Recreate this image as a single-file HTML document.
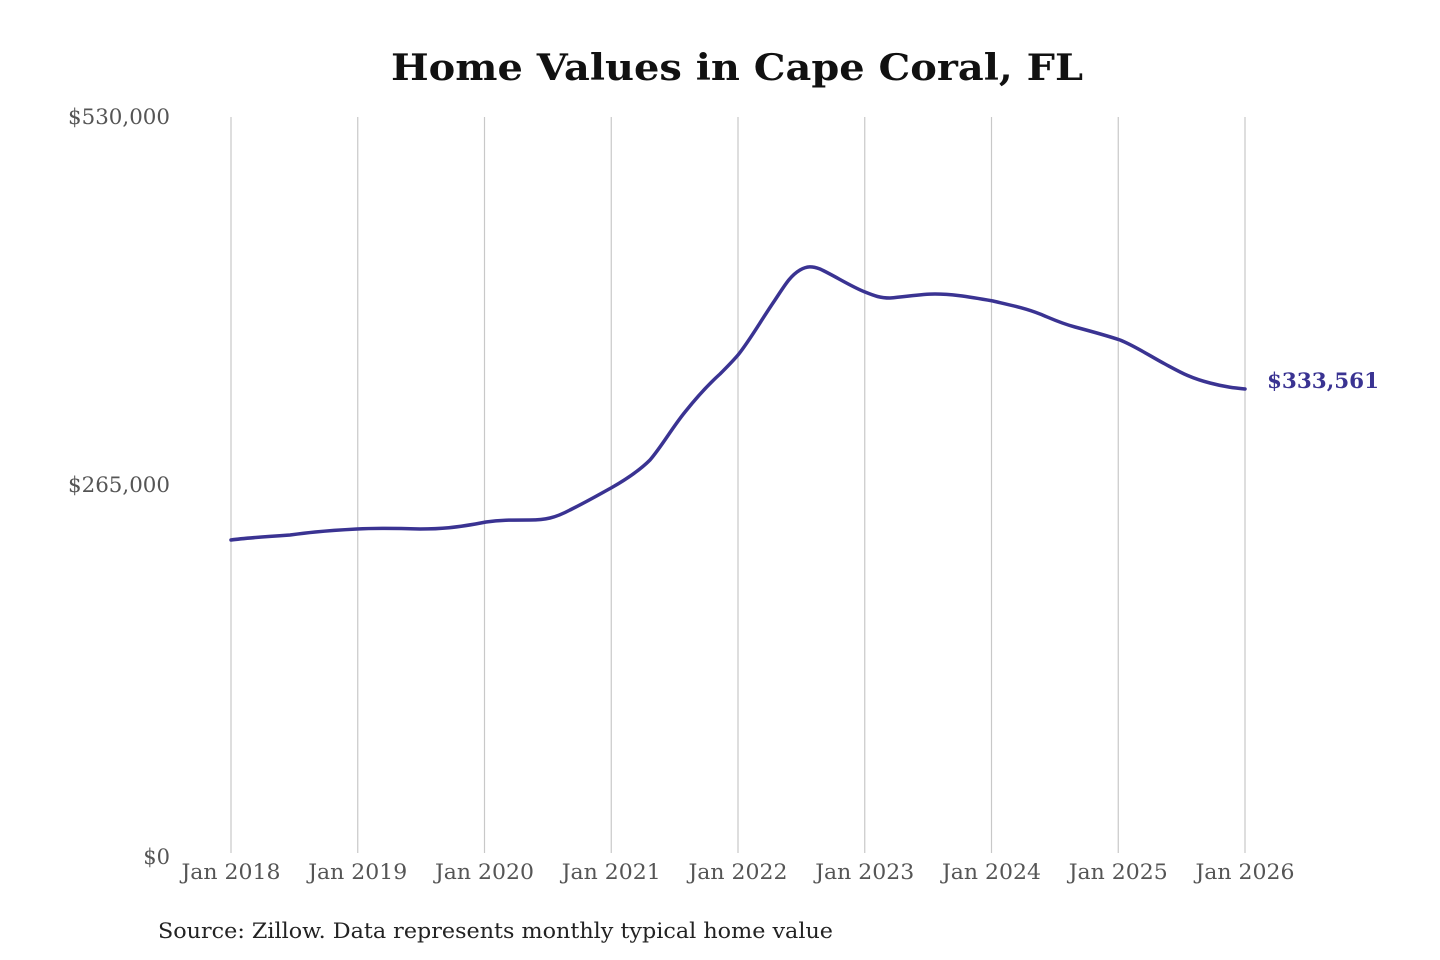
<!DOCTYPE html>
<html><head><meta charset="utf-8"><style>
html,body{margin:0;padding:0;background:#fff;}
svg{display:block;}
text{font-family:"DejaVu Serif","Liberation Serif",serif;}
</style></head><body>
<svg width="1440" height="960" viewBox="0 0 1440 960" xmlns="http://www.w3.org/2000/svg">
<rect width="1440" height="960" fill="#fff"/>
<text x="737" y="80" text-anchor="middle" font-size="36" font-weight="bold" fill="#111" textLength="692" lengthAdjust="spacingAndGlyphs">Home Values in Cape Coral, FL</text>
<g stroke="#c8c8c8" stroke-width="1.2">
<line x1="231" y1="117" x2="231" y2="853"/>
<line x1="357.75" y1="117" x2="357.75" y2="853"/>
<line x1="484.5" y1="117" x2="484.5" y2="853"/>
<line x1="611.25" y1="117" x2="611.25" y2="853"/>
<line x1="738" y1="117" x2="738" y2="853"/>
<line x1="864.75" y1="117" x2="864.75" y2="853"/>
<line x1="991.5" y1="117" x2="991.5" y2="853"/>
<line x1="1118.25" y1="117" x2="1118.25" y2="853"/>
<line x1="1245" y1="117" x2="1245" y2="853"/>
</g>
<g font-size="21" fill="#555" text-anchor="end">
<text x="170" y="124" textLength="102" lengthAdjust="spacingAndGlyphs">$530,000</text>
<text x="170" y="492" textLength="102" lengthAdjust="spacingAndGlyphs">$265,000</text>
<text x="170" y="864">$0</text>
</g>
<g font-size="21" fill="#555" text-anchor="middle">
<text x="231" y="879" textLength="99" lengthAdjust="spacingAndGlyphs">Jan 2018</text>
<text x="357.75" y="879" textLength="99" lengthAdjust="spacingAndGlyphs">Jan 2019</text>
<text x="484.5" y="879" textLength="99" lengthAdjust="spacingAndGlyphs">Jan 2020</text>
<text x="611.25" y="879" textLength="99" lengthAdjust="spacingAndGlyphs">Jan 2021</text>
<text x="738" y="879" textLength="99" lengthAdjust="spacingAndGlyphs">Jan 2022</text>
<text x="864.75" y="879" textLength="99" lengthAdjust="spacingAndGlyphs">Jan 2023</text>
<text x="991.5" y="879" textLength="99" lengthAdjust="spacingAndGlyphs">Jan 2024</text>
<text x="1118.25" y="879" textLength="99" lengthAdjust="spacingAndGlyphs">Jan 2025</text>
<text x="1245" y="879" textLength="99" lengthAdjust="spacingAndGlyphs">Jan 2026</text>
</g>
<path fill="none" stroke="#3a3392" stroke-width="3.5" stroke-linejoin="round" stroke-linecap="round"
d="M231,540 C245,538 260,537 290,535 C305,533 320,531 357,529 C375,528 390,528 420,529 C440,529 455,528 486,522 C500,520 510,520 530,520 C545,520 555,518 570,510 C590,500 600,494 611,488 C625,480 640,470 650,460 C662,446 672,428 685,412 C697,397 710,383 720,374 C728,366 732,362 738,355 C750,340 760,322 775,300 C785,285 790,276 800,270 C807,266 812,266 820,269 C835,276 850,286 865,292 C875,296 880,298 890,298 C905,297 920,294 935,294 C950,294 965,296 993,301 C1010,305 1025,308 1040,314 C1050,318 1060,323 1075,327 C1090,331 1105,335 1120,340 C1135,346 1150,356 1165,364 C1180,372 1190,378 1210,383 C1225,387 1235,388 1245,389"/>
<text x="1267" y="388" font-size="21" font-weight="bold" fill="#3a3392" textLength="112" lengthAdjust="spacingAndGlyphs">$333,561</text>
<text x="158" y="938" font-size="21" fill="#222" textLength="675" lengthAdjust="spacingAndGlyphs">Source: Zillow. Data represents monthly typical home value</text>
</svg>
</body></html>
